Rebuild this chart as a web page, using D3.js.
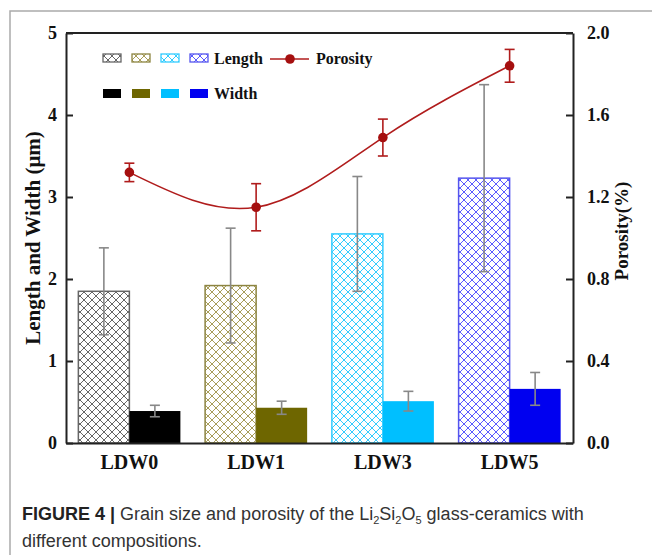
<!DOCTYPE html>
<html lang="en">
  <head>
    <meta charset="utf-8">
    <title>Grain size and porosity</title>
    <script src="https://cdn.jsdelivr.net/npm/d3@7"></script>
    <style>
    body{margin:0;background:#fff;}
    .axis path,.axis line{stroke:#222;stroke-width:2px;}
    .axis text{font-family:"Liberation Serif",serif;font-weight:bold;font-size:18px;fill:#111;}
    .xaxis text{font-size:20px;}
    .ttl{font-family:"Liberation Serif",serif;font-weight:bold;fill:#111;}
    .leg{font-family:"Liberation Serif",serif;font-weight:bold;font-size:16px;fill:#111;}
    .cap{font-family:"Liberation Sans",sans-serif;font-size:18px;fill:#333;}
    </style>
  </head>
  <body>
    <svg></svg>
    <script>
    var groups=["LDW0","LDW1","LDW3","LDW5"];
    var lengthVals=[1.85,1.92,2.55,3.23];
    var lengthErr=[0.53,0.70,0.70,1.14];
    var widthVals=[0.39,0.43,0.51,0.66];
    var widthErr=[0.07,0.08,0.12,0.20];
    var porosity=[1.32,1.15,1.49,1.84];
    var porosityErr=[0.045,0.115,0.09,0.08];
    var leftTicks=[0,1,2,3,4,5];
    var rightTicks=[0,0.4,0.8,1.2,1.6,2.0];
    var hatchColors=["#666666","#a89d5a","#33ccff","#5a5aff"];
    var edgeColors=["#666666","#8c8440","#33ccff","#5555ee"];
    var fillColors=["#000000","#6e6600","#00bfff","#0000f0"];

    var W=652,H=555;
    var pL=66,pR=573,pT=33,pB=443;

    var svg=d3.select("svg").attr("width",W).attr("height",H);

    // hatch patterns
    var defs=svg.append("defs");
    hatchColors.forEach(function(c,i){
      var p=defs.append("pattern")
        .attr("id","hatch"+i)
        .attr("patternUnits","userSpaceOnUse")
        .attr("width",8).attr("height",8);
      p.append("rect").attr("width",8).attr("height",8).attr("fill","#fff");
      p.append("path")
        .attr("d","M0,0L8,8M8,0L0,8")
        .attr("stroke",c).attr("stroke-width",1).attr("fill","none");
    });

    // outer frame
    svg.append("path")
      .attr("d","M10,"+H+"V11H"+W)
      .attr("fill","none").attr("stroke","#aaa").attr("stroke-width",1.5);

    var x=d3.scaleBand().domain(groups).range([pL,pR])
      .paddingInner(0.195).paddingOuter(0.0975);
    var xs=d3.scaleBand().domain(["len","wid"]).range([0,x.bandwidth()]);
    var yL=d3.scaleLinear().domain([0,5]).range([pB,pT]);
    var yR=d3.scaleLinear().domain([0,2]).range([pB,pT]);

    var rows=groups.map(function(g,i){
      return {g:g,i:i,len:lengthVals[i],le:lengthErr[i],wid:widthVals[i],we:widthErr[i],
              por:porosity[i],pe:porosityErr[i]};
    });

    // length bars
    svg.selectAll(".lbar").data(rows).enter().append("rect")
      .attr("class","lbar")
      .attr("x",function(d){return x(d.g)+xs("len");})
      .attr("y",function(d){return yL(d.len);})
      .attr("width",xs.bandwidth())
      .attr("height",function(d){return yL(0)-yL(d.len);})
      .attr("fill",function(d){return "url(#hatch"+d.i+")";})
      .attr("stroke",function(d){return edgeColors[d.i];})
      .attr("stroke-width",1.5);
    // width bars
    svg.selectAll(".wbar").data(rows).enter().append("rect")
      .attr("class","wbar")
      .attr("x",function(d){return x(d.g)+xs("wid");})
      .attr("y",function(d){return yL(d.wid);})
      .attr("width",xs.bandwidth())
      .attr("height",function(d){return yL(0)-yL(d.wid);})
      .attr("fill",function(d){return fillColors[d.i];});

    function errBar(sel,cx,v,e,scale,color,cap){
      var g=sel.append("g").attr("stroke",color).attr("stroke-width",1.6).attr("fill","none");
      g.append("line").attr("x1",cx).attr("x2",cx).attr("y1",scale(v-e)).attr("y2",scale(v+e));
      g.append("line").attr("x1",cx-cap).attr("x2",cx+cap).attr("y1",scale(v-e)).attr("y2",scale(v-e));
      g.append("line").attr("x1",cx-cap).attr("x2",cx+cap).attr("y1",scale(v+e)).attr("y2",scale(v+e));
    }
    rows.forEach(function(d){
      errBar(svg,x(d.g)+xs("len")+xs.bandwidth()/2,d.len,d.le,yL,"#888",5);
      errBar(svg,x(d.g)+xs("wid")+xs.bandwidth()/2,d.wid,d.we,yL,"#888",5);
    });

    // plot frame (top line)
    svg.append("line").attr("x1",pL).attr("x2",pR).attr("y1",pT).attr("y2",pT)
      .attr("stroke","#222").attr("stroke-width",2);

    // axes
    svg.append("g").attr("class","axis")
      .attr("transform","translate("+pL+",0)")
      .call(d3.axisLeft(yL).tickValues(leftTicks).tickFormat(d3.format("d")).tickSizeInner(-7).tickSizeOuter(0).tickPadding(9));
    svg.append("g").attr("class","axis")
      .attr("transform","translate("+pR+",0)")
      .call(d3.axisRight(yR).tickValues(rightTicks).tickFormat(d3.format(".1f")).tickSizeInner(-7).tickSizeOuter(0).tickPadding(14));
    svg.append("g").attr("class","axis xaxis")
      .attr("transform","translate(0,"+pB+")")
      .call(d3.axisBottom(x).tickSize(0).tickPadding(12));

    // porosity curve
    var por=rows.map(function(d){return [x(d.g)+x.bandwidth()/2,yR(d.por)];});
    svg.append("path")
      .attr("d",d3.line().curve(d3.curveNatural)(por))
      .attr("fill","none").attr("stroke","#b01c1c").attr("stroke-width",1.6);
    rows.forEach(function(d){
      errBar(svg,x(d.g)+x.bandwidth()/2,d.por,d.pe,yR,"#b01c1c",5);
    });
    svg.selectAll(".pt").data(rows).enter().append("circle")
      .attr("class","pt")
      .attr("cx",function(d){return x(d.g)+x.bandwidth()/2;})
      .attr("cy",function(d){return yR(d.por);})
      .attr("r",4.8).attr("fill","#a50f0f");

    // axis titles
    svg.append("text").attr("class","ttl")
      .attr("transform","translate(40,238)rotate(-90)")
      .attr("text-anchor","middle").style("font-size","21px")
      .text("Length and Width (\u03bcm)");
    svg.append("text").attr("class","ttl")
      .attr("transform","translate(628,231)rotate(-90)")
      .attr("text-anchor","middle").style("font-size","19px")
      .text("Porosity(%)");

    // legend
    var lx=[103,132,161,190];
    var leg=svg.append("g");
    lx.forEach(function(px,i){
      leg.append("rect").attr("x",px).attr("y",54).attr("width",18).attr("height",8)
        .attr("fill","url(#hatch"+i+")").attr("stroke",edgeColors[i]).attr("stroke-width",1.3);
      leg.append("rect").attr("x",px).attr("y",89).attr("width",18).attr("height",9)
        .attr("fill",fillColors[i]);
    });
    leg.append("text").attr("class","leg").attr("x",214).attr("y",64).text("Length");
    leg.append("text").attr("class","leg").attr("x",214).attr("y",99).text("Width");
    leg.append("line").attr("x1",270).attr("x2",309).attr("y1",59).attr("y2",59)
      .attr("stroke","#b01c1c").attr("stroke-width",1.6);
    leg.append("circle").attr("cx",290).attr("cy",59).attr("r",4.8).attr("fill","#a50f0f");
    leg.append("text").attr("class","leg").attr("x",316).attr("y",64).text("Porosity");

    // caption
    var cap=svg.append("text").attr("class","cap").attr("x",22).attr("y",520);
    cap.append("tspan").style("font-weight","bold").attr("fill","#222").text("FIGURE 4 | ");
    cap.append("tspan").text("Grain size and porosity of the Li");
    cap.append("tspan").attr("dy",4).style("font-size","11px").text("2");
    cap.append("tspan").attr("dy",-4).text("Si");
    cap.append("tspan").attr("dy",4).style("font-size","11px").text("2");
    cap.append("tspan").attr("dy",-4).text("O");
    cap.append("tspan").attr("dy",4).style("font-size","11px").text("5");
    cap.append("tspan").attr("dy",-4).text(" glass-ceramics with");
    svg.append("text").attr("class","cap").attr("x",22).attr("y",547).text("different compositions.");
    </script>
  </body>
</html>
